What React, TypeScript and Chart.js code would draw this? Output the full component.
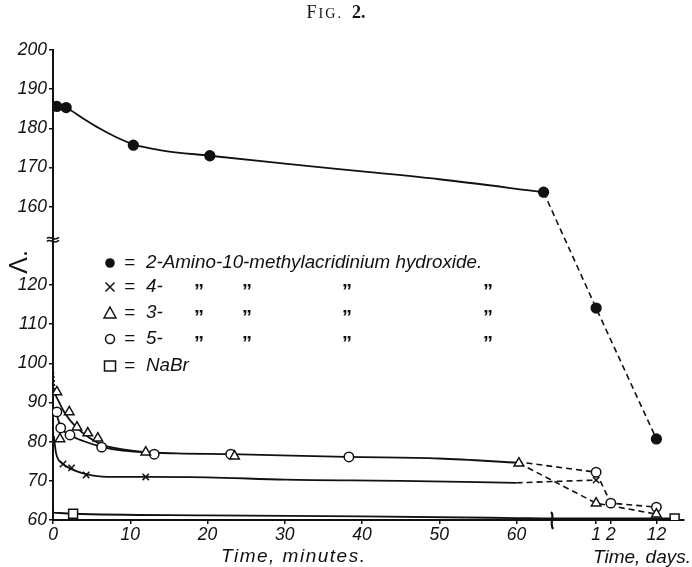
import React, { useEffect, useRef } from "react";
import { Chart, registerables } from "chart.js";
Chart.register(...registerables);

// ---------- axes ----------
const MINUTE_TICKS = [0, 10, 20, 30, 40, 50, 60];
const DAY_TICKS = [1, 2, 12];
const DAY_TICK_POS = [70.3, 72.2, 78.1]; // where the day ticks sit on the broken time axis
const X_MAX = 81.7;
const X_BREAK = 64.6;
const Y_TICKS_LOW = [60, 70, 80, 90, 100, 110, 120];
const Y_TICKS_HIGH = [160, 170, 180, 190, 200];
const Y_GAP = 20; // the axis is cut between 130 and 150
const Y_BREAK = 131.5;

// ---------- ● 2-Amino-10-methylacridinium hydroxide ----------
const AMINO_T = [0.5, 1.7, 10.4, 20.3, 63.5];
const AMINO_V = [185.6, 185.3, 175.7, 173.0, 163.7];
const AMINO_CURVE_T = [0, 1.7, 4, 6, 8, 10.4, 14, 20.3, 30, 40, 50, 63.5];
const AMINO_CURVE_V = [186.8, 185.3, 182.4, 180.0, 177.9, 175.9, 174.4, 173.0, 171.0, 169.0, 167.0, 163.7];
const AMINO_DAYS = [1, 12];
const AMINO_DAY_V = [114.1, 80.7];

// ---------- × 4- ----------
const X4_T = [1.3, 2.4, 4.3, 12.0];
const X4_V = [74.3, 73.3, 71.5, 71.0];
const X4_CURVE_T = [0.1, 0.4, 1.3, 2.4, 4.3, 7, 12, 20, 30, 45, 60];
const X4_CURVE_V = [81.5, 77.0, 74.3, 73.0, 71.7, 71.0, 71.0, 70.9, 70.3, 70.0, 69.5];
const X4_DAYS = [1];
const X4_DAY_V = [70.2];

// ---------- △ 3- ----------
const T3_T = [0.5, 0.9, 2.1, 3.1, 4.5, 5.8, 12.0, 23.5, 60.3];
const T3_V = [92.7, 80.7, 87.6, 83.7, 82.2, 80.9, 77.3, 76.3, 74.5];
const T3_CURVE_T = [0.3, 1.5, 3.1, 4.7, 6.4, 9.5, 12, 16, 23, 38, 50, 60.3];
const T3_CURVE_V = [92.0, 87.4, 83.5, 81.0, 79.2, 77.9, 77.3, 77.0, 76.8, 76.1, 75.7, 74.6];
const T3_LEAD_T = [0, 0.3];
const T3_LEAD_V = [99.8, 92.0];
const T3_DAYS = [1, 12];
const T3_DAY_V = [64.3, 61.5];

// ---------- ○ 5- ----------
const C5_T = [0.5, 1.0, 2.2, 6.3, 13.1, 23.0, 38.3];
const C5_V = [87.6, 83.5, 81.7, 78.6, 76.8, 76.8, 76.1];
const C5_CURVE_T = [0.2, 1.0, 2.2, 4, 6.3, 9, 12];
const C5_CURVE_V = [88.8, 83.8, 81.7, 80.1, 78.7, 77.7, 77.3];
const C5_DASH_START_T = 60;
const C5_DASH_START_V = 74.9;
const C5_DAYS = [1, 2, 12];
const C5_DAY_V = [72.2, 64.3, 63.3];

// ---------- □ NaBr ----------
const NA_T = [2.6];
const NA_V = [61.6];
const NA_CURVE_T = [0, 2.6, 20, 40, 60, 64.6];
const NA_CURVE_V = [61.9, 61.6, 61.2, 60.9, 60.5, 60.4];
const NA_DAYS = [16];
const NA_DAY_V = [60.4];

const LEGEND_LABELS = ["2-Amino-10-methylacridinium hydroxide.", "4-", "3-", "5-", "NaBr"];
const INK = "#111";

const yMap = (v: number) => (v >= 150 ? v - Y_GAP : v);
const dayX = (d: number) => {
  for (let i = 0; i < DAY_TICKS.length - 1; i++) {
    if (d <= DAY_TICKS[i + 1]) {
      const f = (d - DAY_TICKS[i]) / (DAY_TICKS[i + 1] - DAY_TICKS[i]);
      return DAY_TICK_POS[i] + f * (DAY_TICK_POS[i + 1] - DAY_TICK_POS[i]);
    }
  }
  const n = DAY_TICKS.length - 1;
  const slope = (DAY_TICK_POS[n] - DAY_TICK_POS[n - 1]) / (DAY_TICKS[n] - DAY_TICKS[n - 1]);
  return DAY_TICK_POS[n] + (d - DAY_TICKS[n]) * slope;
};
const pts = (t: number[], v: number[]) => t.map((x, i) => ({ x, y: yMap(v[i]) }));
const dpts = (d: number[], v: number[]) => d.map((x, i) => ({ x: dayX(x), y: yMap(v[i]) }));

const FONT = "'Liberation Sans', Arial, sans-serif";

const curve = (data: any[]) => ({
  data,
  borderColor: INK,
  borderWidth: 1.8,
  pointRadius: 0,
  cubicInterpolationMode: "monotone",
  fill: false,
  order: 5,
});
const dashed = (data: any[]) => ({
  data,
  borderColor: INK,
  borderWidth: 1.6,
  borderDash: [6, 4],
  pointRadius: 0,
  tension: 0,
  fill: false,
  order: 5,
});
const marks = (data: any[], style: string, radius: number, filled: boolean) => ({
  data,
  showLine: false,
  pointStyle: style,
  pointRadius: radius,
  pointBorderWidth: 1.5,
  pointBorderColor: INK,
  pointBackgroundColor: filled ? INK : "#fff",
  order: 1,
});

const decorPlugin = {
  id: "decor",
  afterDraw(chart: any) {
    const { ctx, chartArea } = chart;
    const { left, bottom } = chartArea;
    const ys = chart.scales.y;
    const xs = chart.scales.x;
    ctx.save();
    ctx.fillStyle = INK;
    ctx.strokeStyle = INK;

    // title "FIG. 2." in small caps
    const parts: [string, string][] = [
      ["F", "18px 'Liberation Serif', serif"],
      ["IG.", "14px 'Liberation Serif', serif"],
      ["  2.", "bold 18px 'Liberation Serif', serif"],
    ];
    const gap = 2;
    let total = 0;
    parts.forEach(([s, f]) => {
      ctx.font = f;
      total += ctx.measureText(s).width + (s === "IG." ? gap * 3 : gap);
    });
    let tx = 337 - total / 2;
    ctx.textBaseline = "alphabetic";
    ctx.textAlign = "left";
    parts.forEach(([s, f]) => {
      ctx.font = f;
      if (s === "IG.") {
        for (const ch of s) {
          ctx.fillText(ch, tx, 18);
          tx += ctx.measureText(ch).width + gap;
        }
      } else {
        ctx.fillText(s, tx, 18);
        tx += ctx.measureText(s).width + gap;
      }
    });

    // legend
    const rows = [263, 287, 313, 339, 366];
    const mx = 110;
    ctx.lineWidth = 1.5;
    rows.forEach((ry, i) => {
      ctx.beginPath();
      if (i === 0) {
        ctx.arc(mx, ry, 4.8, 0, Math.PI * 2);
        ctx.fill();
      } else if (i === 1) {
        ctx.moveTo(mx - 4.5, ry - 4.5);
        ctx.lineTo(mx + 4.5, ry + 4.5);
        ctx.moveTo(mx + 4.5, ry - 4.5);
        ctx.lineTo(mx - 4.5, ry + 4.5);
        ctx.stroke();
      } else if (i === 2) {
        ctx.moveTo(mx, ry - 6);
        ctx.lineTo(mx + 6, ry + 5);
        ctx.lineTo(mx - 6, ry + 5);
        ctx.closePath();
        ctx.stroke();
      } else if (i === 3) {
        ctx.arc(mx, ry, 4.5, 0, Math.PI * 2);
        ctx.stroke();
      } else {
        ctx.rect(mx - 5.5, ry - 5, 11, 10);
        ctx.stroke();
      }
      ctx.font = `italic 18.8px ${FONT}`;
      ctx.textBaseline = "middle";
      ctx.textAlign = "left";
      ctx.fillText("=", 124, ry);
      ctx.fillText(LEGEND_LABELS[i], 146, ry);
      if (i >= 1 && i <= 3) {
        ctx.textAlign = "center";
        ctx.textBaseline = "alphabetic";
        ctx.font = `bold 20px ${FONT}`;
        [199, 247, 347, 488].forEach((dx) => ctx.fillText("\u201D", dx, ry + 11));
      }
    });

    // axis titles
    ctx.font = `italic 19px ${FONT}`;
    ctx.textAlign = "left";
    ctx.textBaseline = "alphabetic";
    (ctx as any).letterSpacing = "1.5px";
    ctx.fillText("Time, minutes.", 221, 562);
    (ctx as any).letterSpacing = "0px";
    ctx.fillText("Time, days.", 593, 563);

    ctx.save();
    ctx.translate(20, 262);
    ctx.rotate(-Math.PI / 2);
    ctx.font = `25px ${FONT}`;
    ctx.textAlign = "center";
    ctx.textBaseline = "middle";
    ctx.fillText("\u039B.", 0, 0);
    ctx.restore();

    // y-axis break mark
    const by = ys.getPixelForValue(Y_BREAK);
    ctx.lineWidth = 1.6;
    [-1.5, 1.5].forEach((o) => {
      ctx.beginPath();
      ctx.moveTo(left - 6, by + o);
      ctx.bezierCurveTo(left - 3, by + o - 4, left, by + o + 4, left + 6, by + o - 1);
      ctx.stroke();
    });

    // x-axis break mark
    const bx = xs.getPixelForValue(X_BREAK);
    ctx.lineWidth = 2.2;
    ctx.beginPath();
    ctx.moveTo(bx - 1, bottom - 8);
    ctx.bezierCurveTo(bx + 3, bottom - 4, bx - 3, bottom + 3, bx + 1, bottom + 9);
    ctx.stroke();
    ctx.restore();
  },
};

export default function App() {
  const ref = useRef<HTMLCanvasElement | null>(null);
  useEffect(() => {
    if (!ref.current) return;
    const datasets: any[] = [
      marks([...pts(AMINO_T, AMINO_V), ...dpts(AMINO_DAYS, AMINO_DAY_V)], "circle", 4.9, true),
      marks([...pts(X4_T, X4_V), ...dpts(X4_DAYS, X4_DAY_V)], "crossRot", 4.5, false),
      marks([...pts(T3_T, T3_V), ...dpts(T3_DAYS, T3_DAY_V)], "triangle", 5.5, false),
      marks([...pts(C5_T, C5_V), ...dpts(C5_DAYS, C5_DAY_V)], "circle", 4.7, false),
      marks([...pts(NA_T, NA_V), ...dpts(NA_DAYS, NA_DAY_V)], "rect", 6.3, false),
      curve(pts(AMINO_CURVE_T, AMINO_CURVE_V)),
      curve(pts(X4_CURVE_T, X4_CURVE_V)),
      curve(pts(T3_CURVE_T, T3_CURVE_V)),
      curve(pts(C5_CURVE_T, C5_CURVE_V)),
      curve([...pts(NA_CURVE_T, NA_CURVE_V), ...dpts(NA_DAYS, NA_DAY_V)]),
      dashed([...pts(AMINO_T.slice(-1), AMINO_V.slice(-1)), ...dpts(AMINO_DAYS, AMINO_DAY_V)]),
      dashed([...pts(X4_CURVE_T.slice(-1), X4_CURVE_V.slice(-1)), ...dpts(X4_DAYS, X4_DAY_V)]),
      dashed([...pts(T3_T.slice(-1), T3_V.slice(-1)), ...dpts(T3_DAYS, T3_DAY_V)]),
      dashed([...pts([C5_DASH_START_T], [C5_DASH_START_V]), ...dpts(C5_DAYS, C5_DAY_V)]),
      { ...dashed(pts(T3_LEAD_T, T3_LEAD_V)), borderDash: [2, 2], borderWidth: 1.2 },
    ];
    const tickFont = { family: FONT, size: 17.5, style: "italic" as const };
    const chart = new Chart(ref.current, {
      type: "line",
      data: { datasets },
      plugins: [decorPlugin],
      options: {
        animation: false,
        responsive: false,
        events: [],
        layout: { padding: { top: 50, right: 2, left: 0, bottom: 0 } },
        plugins: { legend: { display: false }, tooltip: { enabled: false }, title: { display: false } },
        scales: {
          x: {
            type: "linear",
            min: 0,
            max: X_MAX,
            afterBuildTicks: (s: any) => {
              s.ticks = [...MINUTE_TICKS, ...DAY_TICK_POS].map((value) => ({ value }));
            },
            afterFit: (s: any) => {
              s.height = 47;
            },
            ticks: {
              autoSkip: false,
              maxRotation: 0,
              color: INK,
              font: tickFont,
              padding: 1,
              callback: (v: any) => {
                const i = DAY_TICK_POS.findIndex((p) => Math.abs(p - v) < 0.01);
                return i >= 0 ? String(DAY_TICKS[i]) : String(v);
              },
            },
            grid: { drawOnChartArea: false, drawTicks: true, tickLength: 4, color: INK, lineWidth: 1.5 },
            border: { display: true, color: INK, width: 2 },
          },
          y: {
            type: "linear",
            min: 60,
            max: yMap(200),
            afterBuildTicks: (s: any) => {
              s.ticks = [...Y_TICKS_LOW, ...Y_TICKS_HIGH.map(yMap)].map((value) => ({ value }));
            },
            afterFit: (s: any) => {
              s.width = 53;
            },
            ticks: {
              autoSkip: false,
              color: INK,
              font: tickFont,
              padding: 2,
              callback: (v: any) => String(v >= 140 ? v + Y_GAP : v),
            },
            grid: { drawOnChartArea: false, drawTicks: true, tickLength: 4, color: INK, lineWidth: 1.5 },
            border: { display: true, color: INK, width: 2 },
          },
        },
      } as any,
    });
    return () => chart.destroy();
  }, []);
  return (
    <div style={{ position: "absolute", left: 0, top: 0, width: 692, height: 567, background: "#fff" }}>
      <canvas ref={ref} width={692} height={567} style={{ display: "block" }} />
    </div>
  );
}
